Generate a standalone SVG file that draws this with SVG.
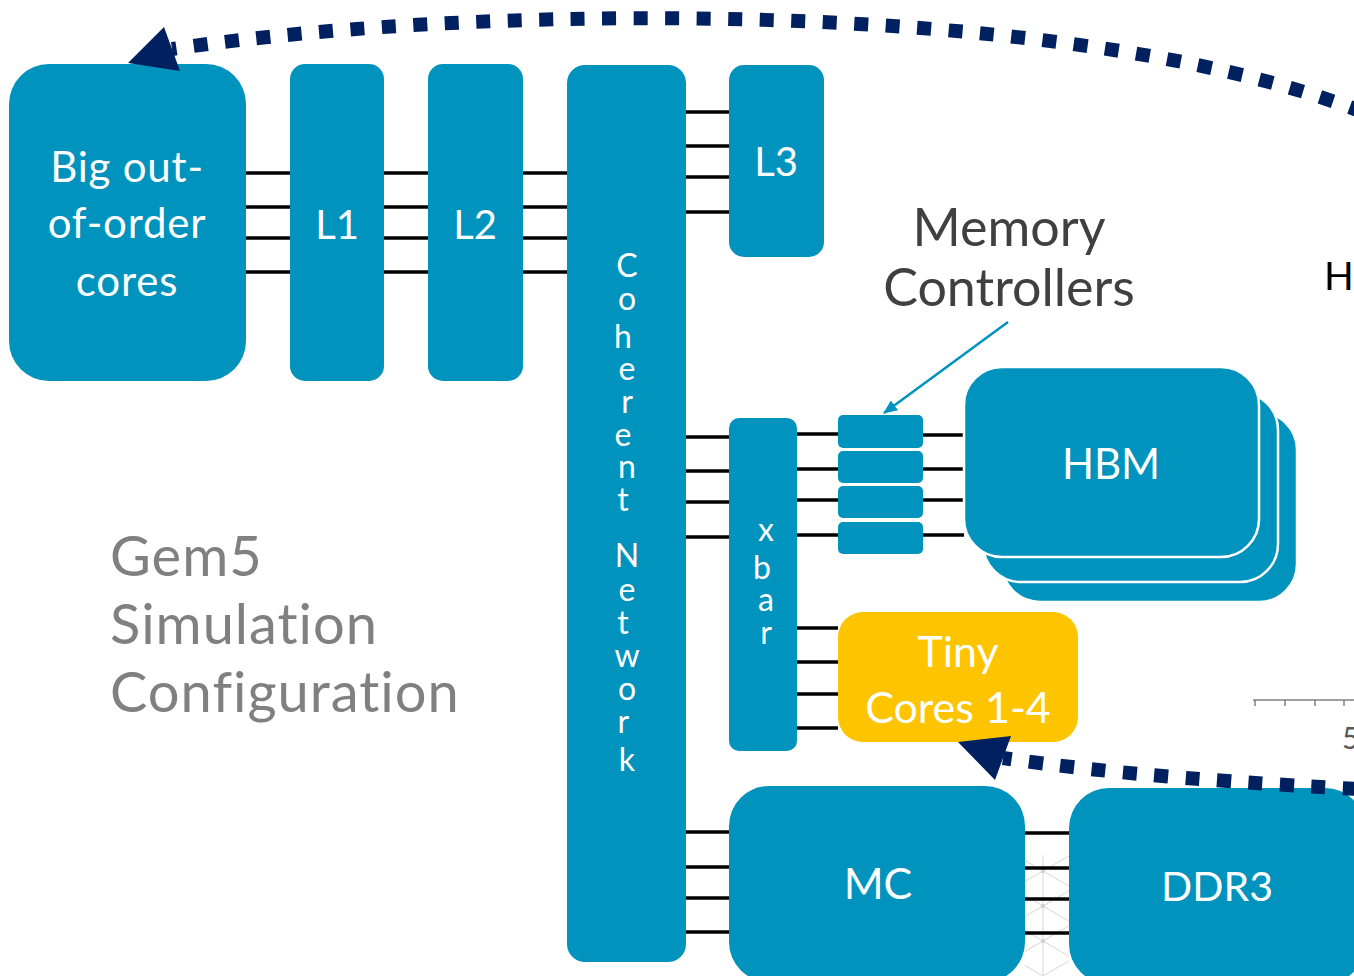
<svg xmlns="http://www.w3.org/2000/svg" width="1354" height="976" viewBox="0 0 1354 976">
  <style>
    .blk { fill: #0093BE; }
    .hbm { fill: #0093BE; stroke: #ffffff; stroke-width: 2.5; }
    .tiny { fill: #FFC400; }
    .lbl { font-family: Lato, "Open Sans", "Liberation Sans", sans-serif; fill: #ffffff; text-anchor: middle; }
    .bus line { stroke: #000000; stroke-width: 3.5; }
    .flow { fill: none; stroke: #002060; stroke-width: 14; stroke-dasharray: 14 17.5; }
    .head { fill: #002060; }
    .note { font-family: Lato, "Open Sans", "Liberation Sans", sans-serif; }
    .lattice line { stroke: #d6d6d6; stroke-width: 1; }
  </style>
  <defs>
    <marker id="tip" viewBox="0 0 14 12" refX="13" refY="6" markerWidth="14" markerHeight="12" markerUnits="userSpaceOnUse" orient="auto">
      <path d="M0,0 L14,6 L0,12 Z" fill="#0093BE"/>
    </marker>
    <clipPath id="gapclip">
      <rect x="1025" y="850" width="44" height="126"/>
    </clipPath>
  </defs>

  <rect width="1354" height="976" fill="#ffffff"/>

  <!-- faint background lattice visible between MC and DDR3 -->
  <g class="lattice" clip-path="url(#gapclip)">
    <line x1="1043" y1="855" x2="1043" y2="976"/>
    <line x1="983" y1="836" x2="1103" y2="906"/>
    <line x1="983" y1="871" x2="1103" y2="941"/>
    <line x1="983" y1="906" x2="1103" y2="976"/>
    <line x1="983" y1="941" x2="1103" y2="1011"/>
    <line x1="983" y1="906" x2="1103" y2="836"/>
    <line x1="983" y1="941" x2="1103" y2="871"/>
    <line x1="983" y1="976" x2="1103" y2="906"/>
    <line x1="983" y1="1011" x2="1103" y2="941"/>
    <circle cx="1043" cy="871" r="2" fill="#cfcfcf" stroke="none"/>
    <circle cx="1043" cy="906" r="2" fill="#cfcfcf" stroke="none"/>
    <circle cx="1043" cy="941" r="2" fill="#cfcfcf" stroke="none"/>
  </g>

  <!-- bus connections -->
  <g id="connectors" class="bus">
    <!-- core -> L1 -> L2 -> network -->
    <line x1="246" y1="173" x2="290" y2="173"/><line x1="246" y1="207" x2="290" y2="207"/>
    <line x1="246" y1="238" x2="290" y2="238"/><line x1="246" y1="272" x2="290" y2="272"/>
    <line x1="384" y1="173" x2="428" y2="173"/><line x1="384" y1="207" x2="428" y2="207"/>
    <line x1="384" y1="238" x2="428" y2="238"/><line x1="384" y1="272" x2="428" y2="272"/>
    <line x1="523" y1="173" x2="567" y2="173"/><line x1="523" y1="207" x2="567" y2="207"/>
    <line x1="523" y1="238" x2="567" y2="238"/><line x1="523" y1="272" x2="567" y2="272"/>
    <!-- network -> L3 -->
    <line x1="686" y1="112" x2="729" y2="112"/><line x1="686" y1="146" x2="729" y2="146"/>
    <line x1="686" y1="177" x2="729" y2="177"/><line x1="686" y1="212" x2="729" y2="212"/>
    <!-- network -> xbar -->
    <line x1="686" y1="437" x2="729" y2="437"/><line x1="686" y1="471" x2="729" y2="471"/>
    <line x1="686" y1="502" x2="729" y2="502"/><line x1="686" y1="537" x2="729" y2="537"/>
    <!-- xbar -> memory controllers -> HBM -->
    <line x1="797" y1="434" x2="838" y2="434"/><line x1="797" y1="469" x2="838" y2="469"/>
    <line x1="797" y1="500" x2="838" y2="500"/><line x1="797" y1="535" x2="838" y2="535"/>
    <line x1="923" y1="435" x2="964" y2="435"/><line x1="923" y1="469" x2="964" y2="469"/>
    <line x1="923" y1="500" x2="964" y2="500"/><line x1="923" y1="535" x2="964" y2="535"/>
    <!-- xbar -> tiny cores -->
    <line x1="797" y1="628" x2="838" y2="628"/><line x1="797" y1="662" x2="838" y2="662"/>
    <line x1="797" y1="694" x2="838" y2="694"/><line x1="797" y1="728" x2="838" y2="728"/>
    <!-- network -> MC -> DDR3 -->
    <line x1="686" y1="832" x2="729" y2="832"/><line x1="686" y1="867" x2="729" y2="867"/>
    <line x1="686" y1="898" x2="729" y2="898"/><line x1="686" y1="932" x2="729" y2="932"/>
    <line x1="1025" y1="833" x2="1069" y2="833"/><line x1="1025" y1="868" x2="1069" y2="868"/>
    <line x1="1025" y1="899" x2="1069" y2="899"/><line x1="1025" y1="933" x2="1069" y2="933"/>
  </g>

  <g id="big-core">
    <rect class="blk" x="9" y="64" width="237" height="317" rx="40"/>
    <text class="lbl" font-size="42" letter-spacing="0.8"><tspan x="127" y="182">Big out-</tspan><tspan x="127" y="238">of-order</tspan><tspan x="127" y="296">cores</tspan></text>
  </g>

  <g id="l1">
    <rect class="blk" x="290" y="64" width="94" height="317" rx="15"/>
    <text class="lbl" font-size="40" x="337" y="239">L1</text>
  </g>

  <g id="l2">
    <rect class="blk" x="428" y="64" width="95" height="317" rx="15"/>
    <text class="lbl" font-size="40" x="475" y="239">L2</text>
  </g>

  <g id="coherent-network">
    <rect class="blk" x="567" y="65" width="119" height="897" rx="18"/>
    <text class="lbl" font-size="32">
      <tspan x="627" y="277">C</tspan><tspan x="627" y="310">o</tspan><tspan x="627" y="348">h</tspan>
      <tspan x="627" y="380">e</tspan><tspan x="627" y="413">r</tspan><tspan x="627" y="446">e</tspan>
      <tspan x="627" y="478">n</tspan><tspan x="627" y="511">t</tspan>
      <tspan x="627" y="567">N</tspan><tspan x="627" y="601">e</tspan><tspan x="627" y="634">t</tspan>
      <tspan x="627" y="667">w</tspan><tspan x="627" y="700">o</tspan><tspan x="627" y="733">r</tspan>
      <tspan x="627" y="771">k</tspan>
    </text>
  </g>

  <g id="l3">
    <rect class="blk" x="729" y="65" width="95" height="192" rx="15"/>
    <text class="lbl" font-size="40" x="776" y="176">L3</text>
  </g>

  <g id="xbar">
    <rect class="blk" x="729" y="418" width="68" height="333" rx="10"/>
    <text class="lbl" font-size="32">
      <tspan x="766" y="541">x</tspan><tspan x="766" y="579">b</tspan>
      <tspan x="766" y="611">a</tspan><tspan x="766" y="644">r</tspan>
    </text>
  </g>

  <g id="memory-controllers">
    <rect class="blk" x="838" y="415" width="85" height="33" rx="5"/>
    <rect class="blk" x="838" y="451" width="85" height="32" rx="5"/>
    <rect class="blk" x="838" y="486" width="85" height="32" rx="5"/>
    <rect class="blk" x="838" y="522" width="85" height="32" rx="5"/>
  </g>

  <g id="hbm">
    <rect class="hbm" x="1002" y="412" width="295" height="190" rx="38"/>
    <rect class="hbm" x="983" y="392" width="295" height="190" rx="38"/>
    <rect class="hbm" x="964" y="367" width="295" height="190" rx="38"/>
    <text class="lbl" font-size="42" x="1111" y="479">HBM</text>
  </g>

  <g id="tiny-cores">
    <rect class="tiny" x="838" y="612" width="240" height="130" rx="25"/>
    <text class="lbl" font-size="43"><tspan x="958" y="667">Tiny</tspan><tspan x="958" y="723">Cores 1-4</tspan></text>
  </g>

  <g id="mc">
    <rect class="blk" x="729" y="786" width="296" height="196" rx="40"/>
    <text class="lbl" font-size="43" x="878" y="899">MC</text>
  </g>

  <g id="ddr3">
    <rect class="blk" x="1069" y="788" width="296" height="196" rx="40"/>
    <text class="lbl" font-size="41" x="1217" y="901">DDR3</text>
  </g>

  <g id="memory-controllers-label">
    <text class="note" font-size="52" fill="#404040" text-anchor="middle"><tspan x="1009" y="246">Memory</tspan><tspan x="1009" y="306">Controllers</tspan></text>
    <line x1="1008" y1="322" x2="884" y2="413" stroke="#0093BE" stroke-width="2.5" marker-end="url(#tip)"/>
  </g>

  <g id="title">
    <text class="note" font-size="56" letter-spacing="1" fill="#808080"><tspan x="110" y="576">Gem5</tspan><tspan x="110" y="644">Simulation</tspan><tspan x="110" y="712">Configuration</tspan></text>
  </g>

  <!-- partial labels at the right edge -->
  <text class="note" font-size="39" fill="#000000" x="1324" y="290">H</text>
  <g id="axis" stroke="#7f7f7f" stroke-width="1.5">
    <line x1="1253" y1="700" x2="1354" y2="700"/>
    <line x1="1255" y1="700" x2="1255" y2="706"/>
    <line x1="1285" y1="700" x2="1285" y2="706"/>
    <line x1="1315" y1="700" x2="1315" y2="706"/>
    <line x1="1344" y1="700" x2="1344" y2="706"/>
  </g>
  <text class="note" font-size="30" fill="#595959" x="1342" y="749">5</text>

  <!-- dotted feedback arrows -->
  <g id="flows">
    <path class="flow" d="M1420,138 C1150,-4 500,0 172,49"/>
    <polygon class="head" points="128,63 164,27 180,71"/>
    <path class="flow" d="M1420,792 Q1150,780 1003,758"/>
    <polygon class="head" points="958,742 1011,736 995,780"/>
  </g>
</svg>
